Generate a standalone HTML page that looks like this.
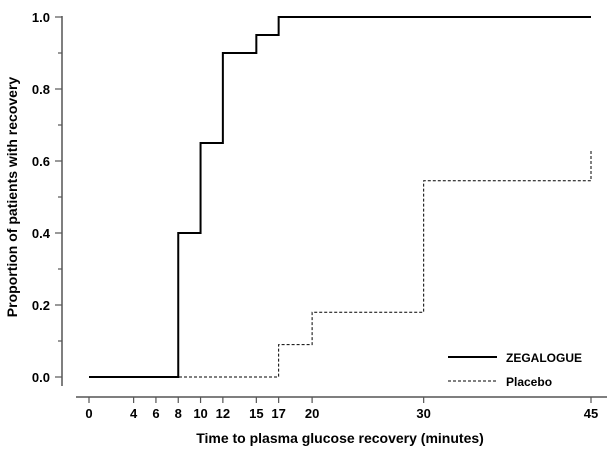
<!DOCTYPE html>
<html><head><meta charset="utf-8"><style>
body{margin:0;background:#fff}
svg{display:block;font-family:"Liberation Sans",Arial,sans-serif}
</style></head><body>
<svg id="chart" width="613" height="452" viewBox="0 0 613 452"></svg>
<script>
const xTicks=[0,4,6,8,10,12,15,17,20,30,45];
const yTicks=[0,0.2,0.4,0.6,0.8,1.0];
const zegTimes=[0,8,10,12,15,17,45];
const zegVals=[0,0.4,0.65,0.9,0.95,1.0,1.0];
const plaTimes=[0,8,17,20,30,45];
const plaVals=[0,0,0.09,0.18,0.545,0.63];
const NS="http://www.w3.org/2000/svg";
const svg=document.getElementById('chart');
const X=v=>89+v*(502/45);
const Y=v=>377-v*360;
function mk(t,a,p){const e=document.createElementNS(NS,t);for(const k in a)e.setAttribute(k,a[k]);(p||svg).appendChild(e);return e;}
let ya=mk('line',{x1:62,y1:16,x2:62,y2:386,stroke:'#555','stroke-width':1.5});


for(let i=0;i<=10;i++){const v=i/10;mk('line',{x1:i%2?58:55,y1:Y(v),x2:62,y2:Y(v),stroke:'#555','stroke-width':1.2});}
yTicks.forEach(v=>{const t=mk('text',{x:50,y:Y(v)+5,'text-anchor':'end','font-size':13,'font-weight':'bold'});t.textContent=v.toFixed(1);

});
let xa=mk('line',{x1:76,y1:397,x2:607,y2:397,stroke:'#555','stroke-width':1.5});


xTicks.forEach(v=>{mk('line',{x1:X(v),y1:397,x2:X(v),y2:403,stroke:'#555','stroke-width':1.2});
const t=mk('text',{x:X(v),y:418,'text-anchor':'middle','font-size':13,'font-weight':'bold'});t.textContent=v;

});
let xt=mk('text',{x:340,y:443,'text-anchor':'middle','font-size':14,'font-weight':'bold'});xt.textContent='Time to plasma glucose recovery (minutes)';


let yt=mk('text',{x:0,y:0,'text-anchor':'middle','font-size':14,'font-weight':'bold',transform:'translate(17,197) rotate(-90)'});yt.textContent='Proportion of patients with recovery';


function step(ts,vs){let d='M'+X(ts[0])+','+Y(vs[0]);for(let i=1;i<ts.length;i++){d+=' H'+X(ts[i])+' V'+Y(vs[i]);}return d;}
let p=mk('path',{d:step(plaTimes,plaVals),fill:'none',stroke:'#000','stroke-width':1,'stroke-dasharray':'3,2'});


let z=mk('path',{d:step(zegTimes,zegVals),fill:'none',stroke:'#000','stroke-width':2});


let l1=mk('line',{x1:448,y1:357,x2:497,y2:357,stroke:'#000','stroke-width':2});


let t1=mk('text',{x:506,y:362,'font-size':12,'font-weight':'bold'});t1.textContent='ZEGALOGUE';


let l2=mk('line',{x1:448,y1:381,x2:497,y2:381,stroke:'#000','stroke-width':1,'stroke-dasharray':'3,2'});


let t2=mk('text',{x:506,y:386,'font-size':12,'font-weight':'bold'});t2.textContent='Placebo';


</script>
</body></html>
